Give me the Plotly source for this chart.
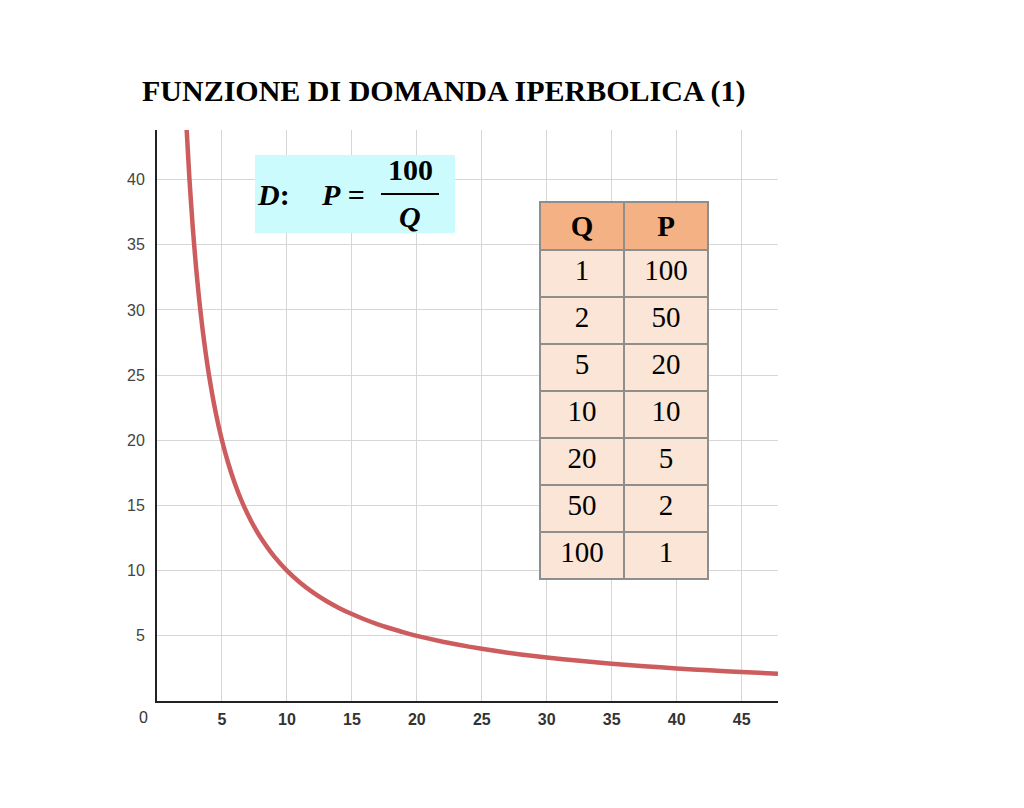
import plotly.graph_objects as go

# Curve (Q, P)
curve_q = [2.28, 2.5, 2.75, 3, 3.25, 3.5, 3.75, 4, 4.5, 5, 5.5, 6, 6.5, 7, 7.5, 8, 9, 10,
           11, 12, 13, 14, 15, 16, 17, 18, 19, 20, 22, 24, 26, 28, 30, 32.5, 35,
           37.5, 40, 42.5, 45, 47.8]
curve_p = [43.86, 40.0, 36.36, 33.33, 30.77, 28.57, 26.67, 25.0, 22.22, 20.0, 18.18,
           16.67, 15.38, 14.29, 13.33, 12.5, 11.11, 10.0, 9.09, 8.33, 7.69, 7.14, 6.67,
           6.25, 5.88, 5.56, 5.26, 5.0, 4.55, 4.17, 3.85, 3.57, 3.33, 3.08, 2.86, 2.67,
           2.5, 2.35, 2.22, 2.09]

# Table values
table_q = ["1", "2", "5", "10", "20", "50", "100"]
table_p = ["100", "50", "20", "10", "5", "2", "1"]

x_ticks = [5, 10, 15, 20, 25, 30, 35, 40, 45]
y_ticks = [5, 10, 15, 20, 25, 30, 35, 40]

title_text = "FUNZIONE DI DOMANDA IPERBOLICA (1)"

OFF = 8  # page body margin
W, H = 1024, 808
# target page coordinates of the plot area
PL, PR, PT, PB = 157, 778, 130, 701
L, T = PL - OFF, PT - OFF
R = W - (PR - OFF)
B = H - (PB - OFF)
PW, PH = PR - PL, PB - PT


def px(xp):
    return (xp - PL) / PW


def py(yp):
    return (PB - yp) / PH


fig = go.Figure()

fig.add_trace(go.Scatter(
    x=curve_q, y=curve_p, mode="lines",
    line=dict(color="#cd5c5f", width=4.5, shape="spline", smoothing=0.5),
    hoverinfo="skip", showlegend=False,
))

serif = "Liberation Serif"
fig.add_trace(go.Table(
    domain=dict(x=[px(540), px(708)], y=[py(580), py(202)]),
    columnwidth=[1, 1],
    header=dict(
        values=["<b>Q</b>", "<b>P</b>"],
        fill_color="#f4b183",
        line=dict(color="#8e8e8e", width=2),
        align="center",
        font=dict(family=serif, size=29, color="black"),
        height=48,
    ),
    cells=dict(
        values=[table_q, table_p],
        fill_color="#fbe5d6",
        line=dict(color="#8e8e8e", width=2),
        align="center",
        font=dict(family=serif, size=29, color="black"),
        height=47,
    ),
))

# formula box
fig.add_shape(type="rect", xref="paper", yref="paper",
              x0=px(255), x1=px(455), y0=py(233), y1=py(155),
              fillcolor="#ccfbfe", line=dict(width=0), layer="above")
fig.add_shape(type="line", xref="paper", yref="paper",
              x0=px(381), x1=px(439), y0=py(194), y1=py(194),
              line=dict(color="black", width=2), layer="above")


def ann(x, y, text, font, xa="center"):
    fig.add_annotation(xref="paper", yref="paper", x=px(x), y=py(y), text=text,
                       showarrow=False, font=font, xanchor=xa, yanchor="middle")


ann_font = dict(family=serif, size=30, color="black")
ann(255, 194, "<b><i>D</i>:</b>", ann_font, "left")
ann(319, 194, "<b><i>P</i> =</b>", ann_font, "left")
ann(410, 170, "<b>100</b>", ann_font)
ann(410, 216, "<b><i>Q</i></b>", ann_font)

# title
ann(443, 91, "<b>" + title_text + "</b>", dict(family=serif, size=30, color="black"))

# origin label
ann(143, 717, "0", dict(family="Liberation Sans", size=16, color="#333"))

fig.update_xaxes(
    range=[0, 47.8], tickvals=x_ticks,
    ticktext=["<b>%d</b>" % v for v in x_ticks],
    showgrid=True, gridcolor="#d6d6d6", gridwidth=1,
    showline=True, linecolor="#222", linewidth=2,
    zeroline=False, ticks="", ticklabelstandoff=3,
    tickfont=dict(family="Liberation Sans", size=16, color="#333"),
)
fig.update_yaxes(
    range=[0, 43.8], tickvals=y_ticks,
    showgrid=True, gridcolor="#d6d6d6", gridwidth=1,
    showline=True, linecolor="#222", linewidth=2,
    zeroline=False, ticks="", ticklabelstandoff=7,
    tickfont=dict(family="Liberation Sans", size=16, color="#444"),
)

fig.update_layout(
    width=W, height=H,
    margin=dict(l=L, r=R, t=T, b=B),
    plot_bgcolor="white", paper_bgcolor="white",
    showlegend=False,
)

fig.write_html("out.html")
